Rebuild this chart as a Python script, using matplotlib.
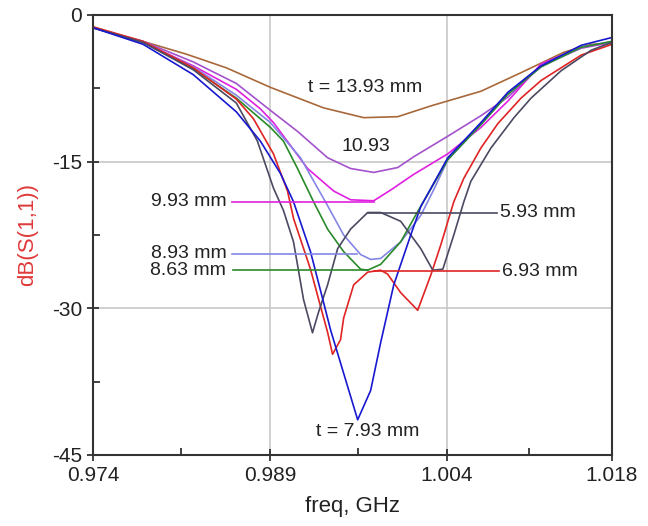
import matplotlib
matplotlib.use("Agg")
import matplotlib.pyplot as plt
from matplotlib.ticker import FixedLocator

plt.rcParams['font.family'] = ['Liberation Sans', 'DejaVu Sans']
plt.rcParams['axes.unicode_minus'] = False

# S11 curves (freq in GHz, dB)
f_1393 = [0.974, 0.97825, 0.9819, 0.9853, 0.98904, 0.99355, 0.99695, 0.99984, 1.00264, 1.00689, 1.01029, 1.01394, 1.01624, 1.018]
s_1393 = [-1.3, -2.7, -4.0, -5.4, -7.4, -9.5, -10.5, -10.4, -9.3, -7.8, -5.9, -3.8, -3.0, -2.9]

f_1093 = [0.974, 0.97825, 0.9825, 0.98615, 0.9893, 0.99134, 0.99389, 0.99584, 0.9978, 0.99984, 1.00119, 1.00408, 1.00689, 1.00918, 1.01199, 1.01539, 1.018]
s_1093 = [-1.3, -2.7, -4.8, -7.0, -10.0, -11.9, -14.6, -15.7, -16.1, -15.6, -14.5, -12.4, -10.3, -8.4, -5.2, -3.4, -2.8]

f_993 = [0.974, 0.97825, 0.9825, 0.98615, 0.98819, 0.9893, 0.99219, 0.9944, 0.99584, 0.9978, 0.99924, 1.00119, 1.00408, 1.00689, 1.00918, 1.01199, 1.01539, 1.018]
s_993 = [-1.3, -2.8, -5.2, -7.6, -9.6, -11.0, -15.7, -18.0, -18.9, -19.0, -17.9, -16.3, -14.2, -11.5, -8.8, -5.0, -3.3, -2.8]

f_893 = [0.974, 0.97825, 0.9825, 0.98615, 0.98904, 0.99159, 0.99389, 0.99525, 0.99669, 0.99754, 0.99839, 1.00009, 1.00179, 1.0030, 1.00408, 1.00689, 1.00918, 1.01199, 1.01539, 1.018]
s_893 = [-1.3, -2.8, -5.3, -8.2, -11.0, -14.6, -19.5, -22.5, -24.5, -25.0, -24.9, -23.2, -20.5, -17.6, -14.8, -11.2, -8.1, -5.3, -3.3, -2.7]

f_863 = [0.974, 0.97825, 0.9825, 0.98615, 0.98904, 0.99015, 0.99134, 0.9927, 0.99389, 0.99525, 0.99669, 0.99729, 0.99839, 1.00009, 1.00153, 1.00408, 1.00689, 1.00918, 1.01199, 1.01539, 1.018]
s_863 = [-1.3, -2.8, -5.5, -8.5, -11.5, -12.9, -15.7, -19.1, -21.9, -24.2, -26.0, -26.1, -25.5, -23.2, -20.1, -14.8, -11.2, -8.1, -5.3, -3.3, -2.7]

f_793 = [0.974, 0.97825, 0.9825, 0.98615, 0.98819, 0.98989, 0.991, 0.99244, 0.99355, 0.99414, 0.99499, 0.99644, 0.99754, 0.99839, 0.9995, 1.00094, 1.00179, 1.00408, 1.00689, 1.00918, 1.01199, 1.01539, 1.018]
s_793 = [-1.3, -3.0, -6.1, -9.9, -12.9, -16.2, -19.1, -24.2, -29.4, -32.2, -35.6, -41.4, -38.4, -33.5, -27.6, -22.5, -19.6, -14.6, -11.0, -7.9, -5.2, -3.1, -2.3]

f_693 = [0.974, 0.97825, 0.9825, 0.98615, 0.9876, 0.9893, 0.99049, 0.991, 0.99244, 0.99329, 0.9939, 0.99431, 0.99499, 0.99525, 0.9961, 0.99729, 0.99839, 0.99898, 1.00009, 1.00153, 1.00264, 1.00349, 1.00459, 1.00544, 1.00689, 1.00833, 1.01029, 1.01199, 1.01539, 1.018]
s_693 = [-1.2, -2.7, -5.4, -8.6, -10.6, -14.2, -18.0, -20.8, -26.0, -29.8, -32.5, -34.7, -33.2, -31.0, -27.6, -26.3, -26.1, -26.5, -28.4, -30.2, -26.6, -23.5, -19.1, -16.7, -13.6, -11.1, -8.5, -6.7, -4.1, -3.0]

f_593 = [0.974, 0.97825, 0.9825, 0.98615, 0.98794, 0.9893, 0.99015, 0.991, 0.99185, 0.99261, 0.99312, 0.99389, 0.99474, 0.99584, 0.99729, 0.99839, 1.00009, 1.00179, 1.00281, 1.00366, 1.00459, 1.00544, 1.00604, 1.00774, 1.00969, 1.01114, 1.01369, 1.01624, 1.018]
s_593 = [-1.3, -2.8, -5.6, -9.0, -12.9, -17.7, -20.0, -23.2, -29.1, -32.5, -30.4, -27.6, -23.9, -21.9, -20.2, -20.2, -21.1, -23.9, -26.1, -26.0, -22.5, -19.1, -17.0, -13.6, -10.5, -8.5, -5.7, -3.6, -2.8]

# label leader lines: (level dB, start freq, end freq)
lead_993 = (-19.1, 0.98581, 0.9978)
lead_893 = (-24.4, 0.98581, 0.9964)
lead_863 = (-26.1, 0.98590, 0.99729)
lead_593 = (-20.2, 0.99729, 1.00824)
lead_693 = (-26.2, 0.99780, 1.00841)

xticks = [0.974, 0.989, 1.004, 1.018]
xticklabels = ['0.974', '0.989', '1.004', '1.018']
yticks = [0, -15, -30, -45]

c_1393 = '#a8683a'
c_1093 = '#a352cc'
c_993 = '#e020e0'
c_893 = '#8585e6'
c_863 = '#2a8a2a'
c_793 = '#1818d0'
c_693 = '#e02424'
c_593 = '#4a4a62'

fig = plt.figure(figsize=(6.48, 5.26), dpi=100)
ax = fig.add_axes([0.1435, 0.135, 0.8009, 0.8365])

lw = 1.2
ax.plot(f_1393, s_1393, color=c_1393, lw=lw)
ax.plot(f_1093, s_1093, color=c_1093, lw=lw)
ax.plot(f_993, s_993, color=c_993, lw=lw)
ax.plot(f_893, s_893, color=c_893, lw=lw)
ax.plot(f_863, s_863, color=c_863, lw=lw)
ax.plot(f_693, s_693, color=c_693, lw=lw)
ax.plot(f_593, s_593, color=c_593, lw=lw)
ax.plot(f_793, s_793, color=c_793, lw=lw)

# leader lines for the labels
for lead, col in [(lead_993, c_993), (lead_893, c_893), (lead_863, c_863),
                  (lead_593, c_593), (lead_693, c_693)]:
    ax.plot([lead[1], lead[2]], [lead[0], lead[0]], color=col, lw=lw)

tc = '#222222'
fs = 14
ax.text(0.99710, -7.4, 't = 13.93 mm', ha='center', va='center', fontsize=fs, color=tc)
ax.text(0.99710, -13.4, '10.93', ha='center', va='center', fontsize=fs, color=tc)
ax.text(0.98530, lead_993[0], '9.93 mm', ha='right', va='center', fontsize=fs, color=tc)
ax.text(0.98530, lead_893[0], '8.93 mm', ha='right', va='center', fontsize=fs, color=tc)
ax.text(0.98530, lead_863[0], '8.63 mm', ha='right', va='center', fontsize=fs, color=tc)
ax.text(1.00850, lead_593[0], '5.93 mm', ha='left', va='center', fontsize=fs, color=tc)
ax.text(1.00870, lead_693[0], '6.93 mm', ha='left', va='center', fontsize=fs, color=tc)
ax.text(0.99730, -42.6, 't = 7.93 mm', ha='center', va='center', fontsize=fs, color=tc)

ax.set_xlim(0.974, 1.018)
ax.set_ylim(-45, 0)
ax.set_xticks(xticks)
ax.set_xticklabels(xticklabels)
ax.set_yticks(yticks)
ax.xaxis.set_minor_locator(FixedLocator([0.9815, 0.9965, 1.011]))
ax.yaxis.set_minor_locator(FixedLocator([-7.5, -22.5, -37.5]))
ax.tick_params(which='major', direction='inout', length=8, width=1.2, labelsize=15, colors='#222222', pad=4)
ax.tick_params(which='minor', direction='in', length=5, width=1.2, colors='#222222')
ax.grid(True, which='major', color='#c8c8c8', lw=1.2)
ax.set_axisbelow(True)
for sp in ax.spines.values():
    sp.set_color('#333333')
    sp.set_linewidth(1.5)

ax.set_xlabel('freq, GHz', fontsize=16, color='#222222', labelpad=8)
ax.set_ylabel('dB(S(1,1))', fontsize=16, color='#e03a3a', labelpad=10)

fig.savefig('out.png', dpi=100)
